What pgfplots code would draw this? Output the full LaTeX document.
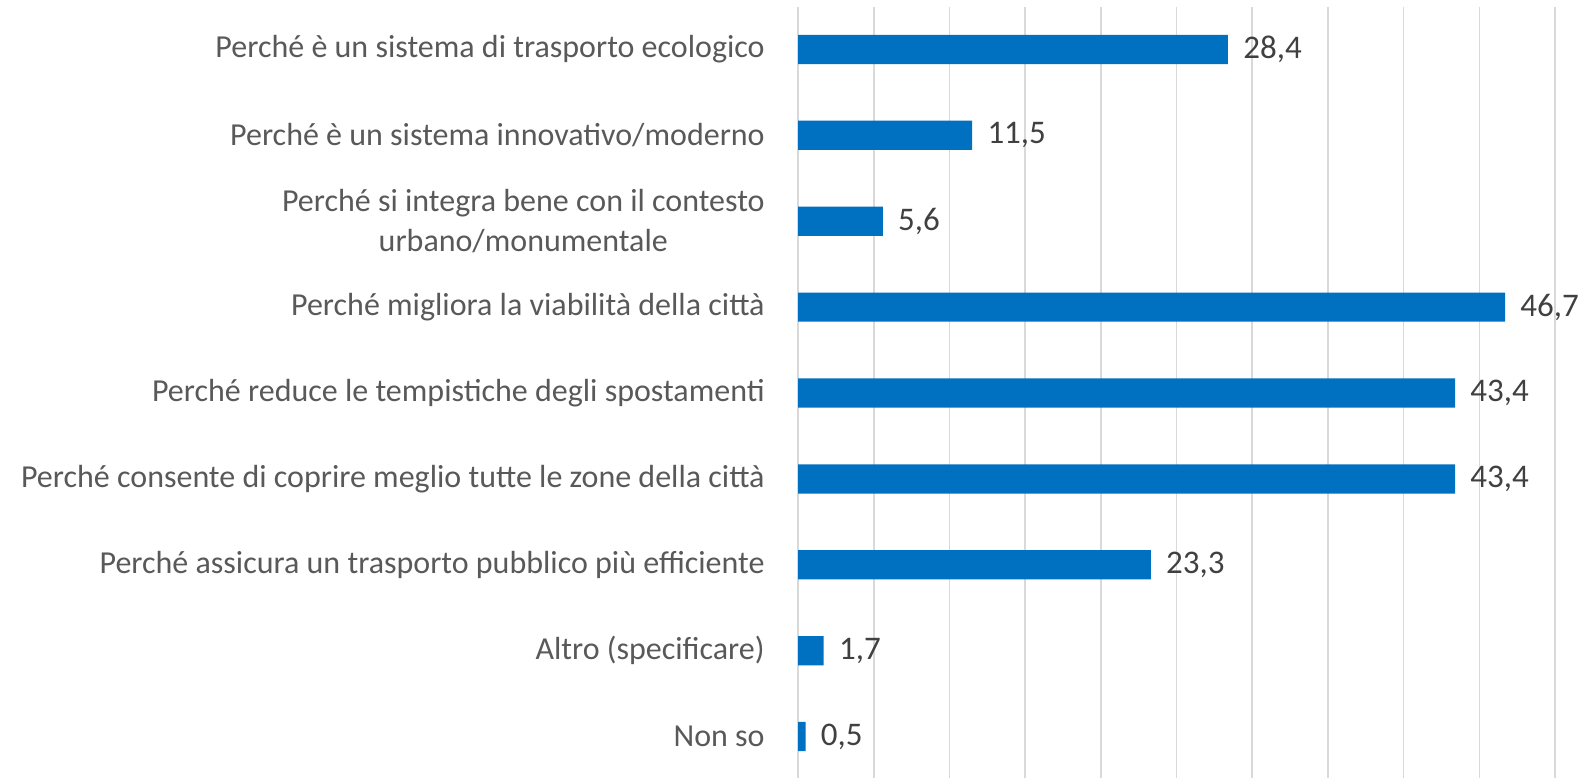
\documentclass[border=0pt]{standalone}
\usepackage{fontspec}
\setmainfont{Carlito}
\usepackage{pgfplots}
\pgfplotsset{compat=1.18}
\definecolor{barblue}{HTML}{0070C0}
\definecolor{txt}{HTML}{595959}
\definecolor{valtxt}{HTML}{404040}
\definecolor{gridc}{HTML}{D9D9D9}
\begin{document}
\begin{tikzpicture}
\begin{axis}[
  at={(399pt,-1.25pt)}, anchor=south west,
  scale only axis, width=378.5pt, height=386.5pt,
  xbar, bar width=14.6pt,
  xmin=0, xmax=50, ymin=-0.5, ymax=8.5, y dir=reverse,
  xtick={0,5,...,50}, xticklabels={},
  xmajorgrids, major grid style={draw=gridc, line width=0.8pt},
  major tick length=0pt,
  axis line style={draw=none},
  ytick={0,...,8},
  yticklabels={
    {Perché è un sistema di trasporto ecologico},
    {Perché è un sistema innovativo/moderno},
    {Perché si integra bene con il contesto\\urbano/monumentale},
    {Perché migliora la viabilità della città},
    {Perché reduce le tempistiche degli spostamenti},
    {Perché consente di coprire meglio tutte le zone della città},
    {Perché assicura un trasporto pubblico più efficiente},
    {Altro (specificare)},
    {Non so}},
  yticklabel style={font=\fontsize{16}{19.7}\selectfont, text=txt, align=center, inner sep=0pt, xshift=-16.5pt},
  nodes near coords,
  nodes near coords style={font=\fontsize{16.5}{19.7}\selectfont, text=valtxt, anchor=west, inner sep=0pt, xshift=7.5pt,
    /pgf/number format/.cd, use comma, fixed, fixed zerofill, precision=1, assume math mode=true},
  clip=false,
]
\addplot[fill=barblue, draw=none] coordinates {
  (28.4,0) (11.5,1) (5.6,2) (46.7,3) (43.4,4) (43.4,5) (23.3,6) (1.7,7) (0.5,8)};
\end{axis}
\pgfresetboundingbox
\path[use as bounding box] (0,0) rectangle (791.5pt,388.5pt);
\end{tikzpicture}
\end{document}
